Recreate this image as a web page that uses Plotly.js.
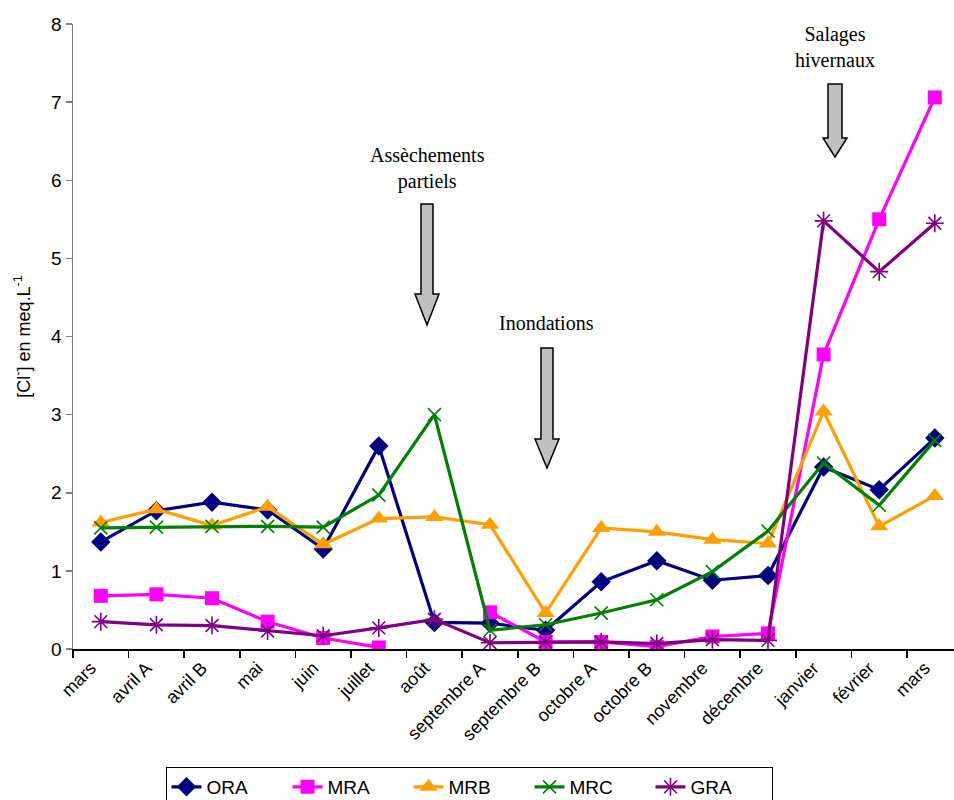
<!DOCTYPE html>
<html>
<head>
<meta charset="utf-8">
<script src="https://cdn.plot.ly/plotly-3.0.1.min.js"></script>
<style>html,body{margin:0;padding:0;background:#fff;}#chart{width:954px;height:800px;}</style>
</head>
<body>
<div id="chart"></div>
<script>
const categories = ["mars","avril A","avril B","mai","juin","juillet","août","septembre A","septembre B","octobre A","octobre B","novembre","décembre","janvier","février","mars"];
const ORA = [1.37,1.77,1.88,1.78,1.28,2.60,0.34,0.33,0.24,0.86,1.13,0.88,0.94,2.33,2.04,2.70];
const MRA = [0.68,0.70,0.65,0.35,0.14,0.02,null,0.47,0.09,0.09,0.03,0.16,0.20,3.77,5.50,7.06];
const MRB = [1.62,1.79,1.58,1.82,1.34,1.67,1.69,1.59,0.46,1.55,1.50,1.40,1.35,3.04,1.57,1.96];
const MRC = [1.55,1.56,1.57,1.57,1.56,1.97,3.00,0.24,0.31,0.46,0.63,0.99,1.51,2.38,1.84,2.67];
const GRA = [0.35,0.31,0.30,0.23,0.17,0.27,0.38,0.08,0.09,0.09,0.07,0.12,0.11,5.48,4.83,5.45];
const yTicks = [0,1,2,3,4,5,6,7,8];

const idx = categories.map((c,i)=>i);
const W = 954, H = 800;
const M = {l:73, r:0, t:24, b:151, autoexpand:false};
const PW = W - M.l - M.r, PH = H - M.t - M.b;
const px = x => (x - M.l)/PW;
const py = y => (H - M.b - y)/PH;

function tr(name, y, color, symbol, msize, mline){
  return {x: idx, y: y, name: name, type:'scatter', mode:'lines+markers',
    connectgaps:false,
    line:{color:color, width:3.2},
    marker:{color:color, symbol:symbol, size:msize, line:{color:color, width:mline}}};
}
const data = [
  tr('ORA', ORA, '#000080', 'diamond', 15, 0),
  tr('MRA', MRA, '#FF00FF', 'square', 14, 0),
  tr('MRB', MRB, '#FFA000', 'triangle-up', 16, 0),
  tr('MRC', MRC, '#008000', 'x-thin-open', 13, 1.6),
  tr('GRA', GRA, '#800080', 'asterisk-open', 15, 1.6)
];

function arrow(sx1, sx2, top, headY, hx1, hx2, tipX, tipY){
  const p = [[sx1,top],[sx2,top],[sx2,headY],[hx2,headY],[tipX,tipY],[hx1,headY],[sx1,headY]];
  let s = 'M ' + p.map(q => px(q[0]).toFixed(5)+','+py(q[1]).toFixed(5)).join(' L ') + ' Z';
  return {type:'path', xref:'paper', yref:'paper', path:s, fillcolor:'#C0C0C0', line:{color:'#000', width:1.5}, layer:'above'};
}

const serif = {family:'"Liberation Serif", "Times New Roman", serif', size:20, color:'#000'};
const layout = {
  width: W, height: H,
  margin: M,
  paper_bgcolor:'#fff', plot_bgcolor:'#fff',
  font:{family:'Arial, "Liberation Sans", sans-serif', color:'#000'},
  showlegend:true,
  legend:{orientation:'h', x:px(469), xanchor:'center', y:py(767), yanchor:'top',
    bordercolor:'#000', borderwidth:1, font:{size:19, color:'#000'},
    entrywidth:76, entrywidthmode:'pixels', itemwidth:30, traceorder:'normal',
    tracegroupgap:0, itemsizing:'trace'},
  xaxis:{range:[-0.5, -0.5 + PW/55.6], tickmode:'array', tickvals:idx, ticktext:categories,
    tickangle:-45, ticks:'', showgrid:false, zeroline:false,
    showline:true, linecolor:'#000', linewidth:1.5, ticklabelshift:-10,
    tickfont:{size:18, color:'#000'},
    minor:{tickmode:'linear', tick0:-0.5, dtick:1, ticks:'outside', ticklen:7, tickcolor:'#000', tickwidth:1.5, showgrid:false}},
  yaxis:{range:[0,8], tickmode:'array', tickvals:yTicks, ticks:'outside', ticklen:6,
    tickcolor:'#808080', tickwidth:1.5, showgrid:false, zeroline:false,
    showline:true, linecolor:'#808080', linewidth:1.5,
    tickfont:{size:19, color:'#000'},
    title:{text:'[Cl<sup>-</sup>] en meq.L<sup>-1</sup>', font:{size:18, color:'#000'}, standoff:16}},
  shapes:[
    arrow(421,433,204,294,415,439,427,325),
    arrow(541,553,348,439,535,559,547,468),
    arrow(828,842,84,138,823,847,835,157)
  ],
  annotations:[
    {xref:'paper', yref:'paper', x:px(427), y:py(168), text:'Assèchements<br>partiels', showarrow:false, xanchor:'center', yanchor:'middle', font:serif},
    {xref:'paper', yref:'paper', x:px(546), y:py(323), text:'Inondations', showarrow:false, xanchor:'center', yanchor:'middle', font:serif},
    {xref:'paper', yref:'paper', x:px(835), y:py(47), text:'Salages<br>hivernaux', showarrow:false, xanchor:'center', yanchor:'middle', font:serif}
  ]
};
Plotly.newPlot('chart', data, layout, {displayModeBar:false, staticPlot:true});
</script>
</body>
</html>
